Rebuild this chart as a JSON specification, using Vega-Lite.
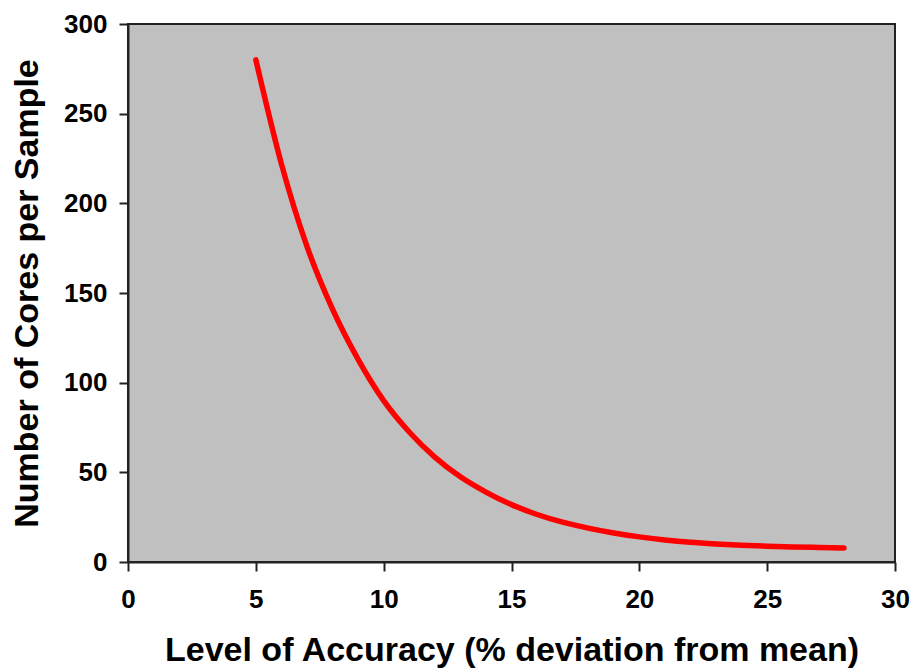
{
  "$schema": "https://vega.github.io/schema/vega-lite/v6.json",
  "autosize": {"type": "none"},
  "width": 767,
  "height": 538,
  "padding": {"left": 128, "top": 24, "right": 16, "bottom": 107},
  "background": "white",
  "config": {
    "view": {"fill": "#C0C0C0", "stroke": "#222222", "strokeWidth": 2},
    "font": "Liberation Sans"
  },
  "data": {
    "values": [
      {"accuracy": 5, "cores": 280},
      {"accuracy": 6, "cores": 222},
      {"accuracy": 7, "cores": 176},
      {"accuracy": 8, "cores": 141},
      {"accuracy": 9, "cores": 113},
      {"accuracy": 10, "cores": 90},
      {"accuracy": 11, "cores": 72.5},
      {"accuracy": 12, "cores": 58.5},
      {"accuracy": 13, "cores": 47.5},
      {"accuracy": 14, "cores": 39},
      {"accuracy": 15, "cores": 32},
      {"accuracy": 16, "cores": 26.5},
      {"accuracy": 17, "cores": 22.2},
      {"accuracy": 18, "cores": 18.9},
      {"accuracy": 19, "cores": 16.2},
      {"accuracy": 20, "cores": 14},
      {"accuracy": 21, "cores": 12.3},
      {"accuracy": 22, "cores": 11},
      {"accuracy": 23, "cores": 10.1},
      {"accuracy": 24, "cores": 9.4},
      {"accuracy": 25, "cores": 8.8},
      {"accuracy": 26, "cores": 8.4},
      {"accuracy": 27, "cores": 8.1},
      {"accuracy": 28, "cores": 7.8}
    ]
  },
  "mark": {"type": "line", "color": "#FF0000", "strokeWidth": 5.5, "interpolate": "monotone", "strokeCap": "round"},
  "encoding": {
    "x": {
      "field": "accuracy",
      "type": "quantitative",
      "scale": {"domain": [0, 30], "nice": false},
      "axis": {
        "title": "Level of Accuracy (% deviation from mean)",
        "values": [0, 5, 10, 15, 20, 25, 30],
        "grid": false,
        "domainColor": "#222222",
        "domainWidth": 2,
        "tickColor": "#222222",
        "tickWidth": 2,
        "tickSize": 9,
        "labelFont": "Liberation Sans",
        "labelFontSize": 26,
        "labelFontWeight": "bold",
        "labelColor": "black",
        "labelPadding": 15,
        "labelFlush": false,
        "titleFont": "Liberation Sans",
        "titleFontSize": 34,
        "titleFontWeight": "bold",
        "titleColor": "black",
        "titlePadding": 21
      }
    },
    "y": {
      "field": "cores",
      "type": "quantitative",
      "scale": {"domain": [0, 300], "nice": false},
      "axis": {
        "title": "Number of Cores per Sample",
        "values": [0, 50, 100, 150, 200, 250, 300],
        "grid": false,
        "domainColor": "#222222",
        "domainWidth": 2,
        "tickColor": "#222222",
        "tickWidth": 2,
        "tickSize": 9,
        "labelFont": "Liberation Sans",
        "labelFontSize": 26,
        "labelFontWeight": "bold",
        "labelColor": "black",
        "labelPadding": 12,
        "labelFlush": false,
        "titleFont": "Liberation Sans",
        "titleFontSize": 34,
        "titleFontWeight": "bold",
        "titleColor": "black",
        "titlePadding": 19
      }
    }
  }
}
